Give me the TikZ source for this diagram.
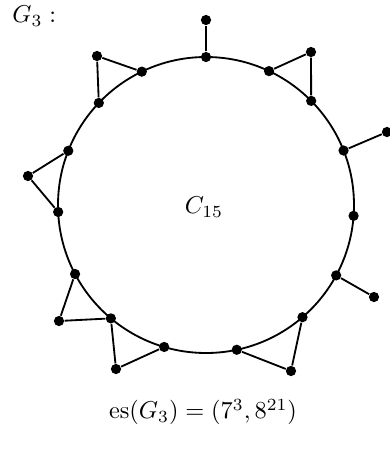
\documentclass[tikz,border=0pt]{standalone}
\usepackage{tikz}
\usetikzlibrary{positioning, calc}
\tikzset{
  vertex/.style={
    circle,
    fill=black,
    inner sep=0pt,
    minimum size=4.2pt
  },
  edge/.style={
    line width=0.75pt
  },
  caption/.style={
    font=\normalsize,
    inner sep=0pt
  }
}

\begin{document}
\begin{tikzpicture}[x=0.0144cm, y=0.0144cm]
  \useasboundingbox (-206,-246) rectangle (184,205);

  % Cycle
  \draw[edge] (0,0) circle (148);
  \node (c15) at (-2,-2) {$C_{15}$};

  % Vertices on the cycle
  \node (v1) [vertex] at (90:148) {};
  \node (v2) [vertex] at (115.7:148) {};
  \node (v3) [vertex] at (136.4:148) {};
  \node (v4) [vertex] at (158.5:148) {};
  \node (v5) [vertex] at (182.7:148) {};
  \node (v6) [vertex] at (207.8:148) {};
  \node (v7) [vertex] at (230:148) {};
  \node (v8) [vertex] at (253.6:148) {};
  \node (v9) [vertex] at (282:148) {};
  \node (v10) [vertex] at (310.7:148) {};
  \node (v11) [vertex] at (331.6:148) {};
  \node (v12) [vertex] at (355.8:148) {};
  \node (v13) [vertex] at (21.6:148) {};
  \node (v14) [vertex] at (44.7:148) {};
  \node (v15) [vertex] at (64.8:148) {};

  % Outer vertices
  \node (p1) [vertex] at (0,185) {};
  \node (p2) [vertex] at (168,-92) {};
  \node (p3) [vertex] at (181,73) {};
  \node (t1) [vertex] at (-109,149) {};
  \node (t2) [vertex] at (-178,29) {};
  \node (t3) [vertex] at (-147,-116) {};
  \node (t4) [vertex] at (-90,-164) {};
  \node (t5) [vertex] at (85,-166) {};
  \node (t6) [vertex] at (105,153) {};

  % Pendant edges
  \draw[edge] (v1) -- (p1);
  \draw[edge] (v11) -- (p2);
  \draw[edge] (v13) -- (p3);

  % Triangles
  \draw[edge] (v2) -- (t1) -- (v3);
  \draw[edge] (v4) -- (t2) -- (v5);
  \draw[edge] (v6) -- (t3) -- (v7);
  \draw[edge] (v7) -- (t4) -- (v8);
  \draw[edge] (v9) -- (t5) -- (v10);
  \draw[edge] (v14) -- (t6) -- (v15);

  % Captions
  \node (name) [caption, anchor=west] at (-194,189) {$G_3:$};
  \node (es) [caption] at (-3,-207) {$\mathrm{es}(G_3)=(7^3,8^{21})$};
\end{tikzpicture}
\end{document}
